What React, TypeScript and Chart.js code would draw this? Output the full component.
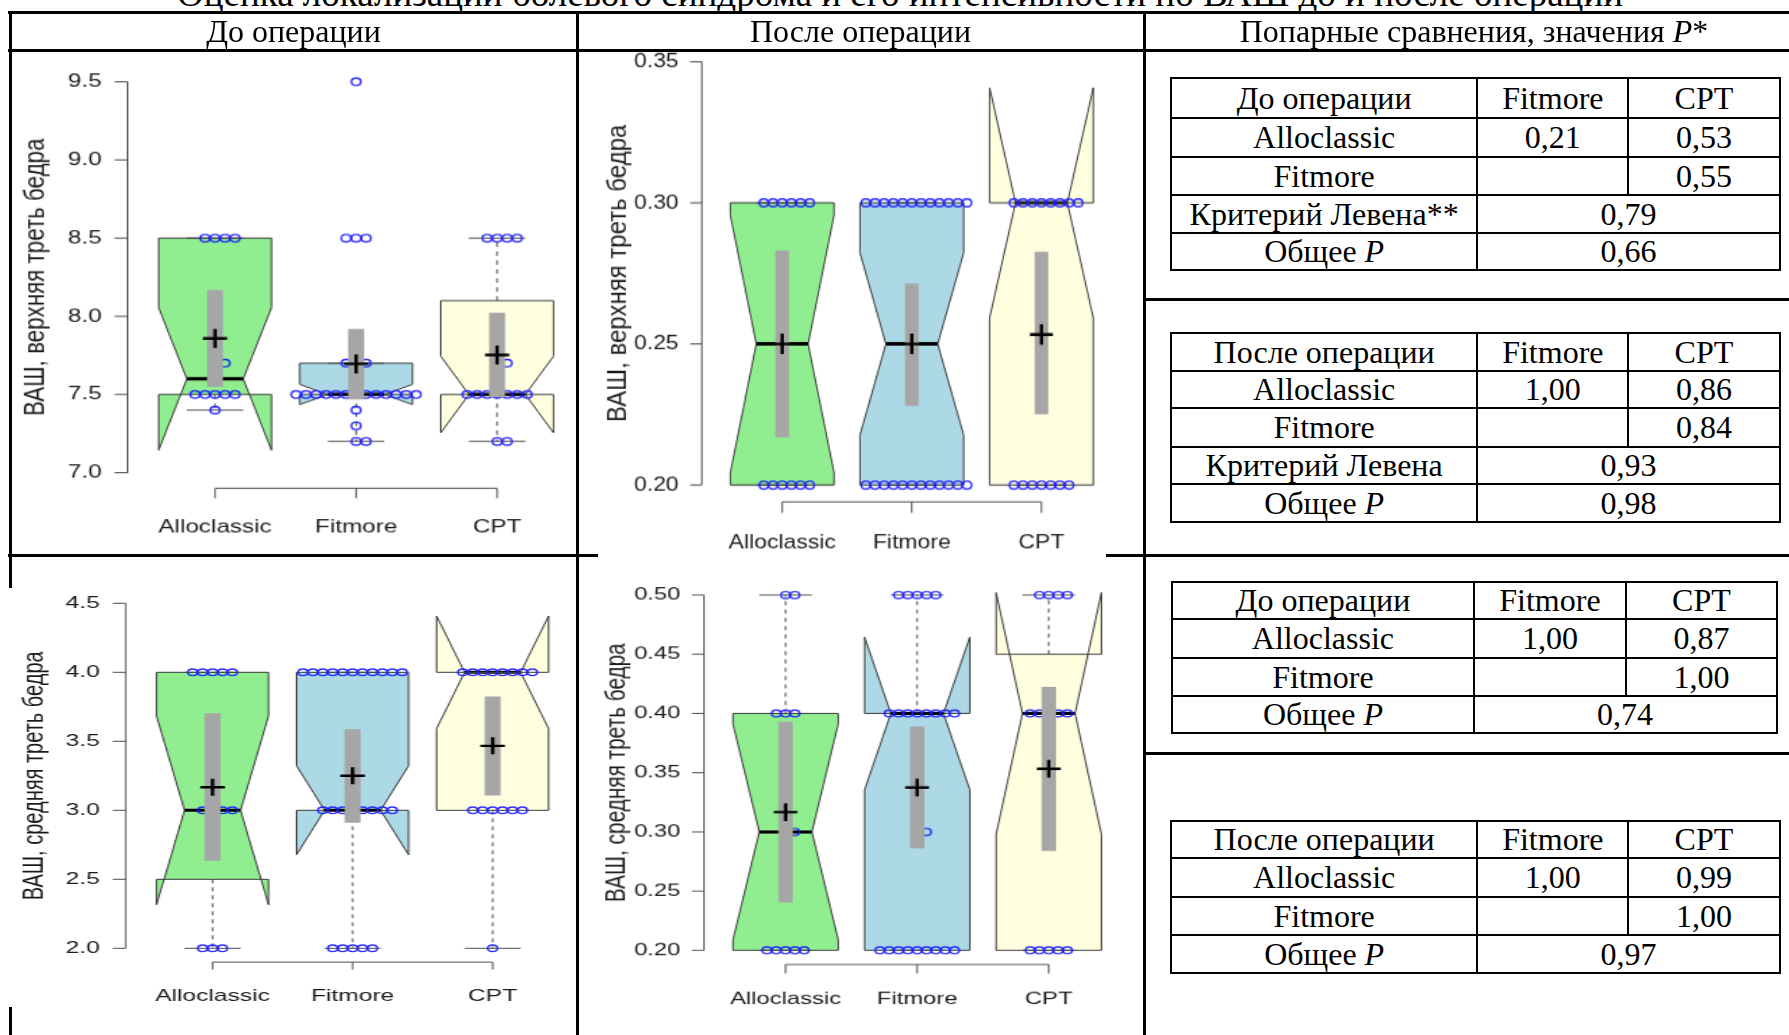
import React, { useEffect, useRef } from 'react';
import { Chart, registerables } from 'chart.js';

Chart.register(...registerables);

const SANS = '"Liberation Sans", Arial, Helvetica, sans-serif';
const SERIF = '"Liberation Serif", "Times New Roman", serif';

const figureTitle = 'Оценка локализации болевого синдрома и его интенсивности по ВАШ до и после операции';
const columnHeads = ['До операции', 'После операции', 'Попарные сравнения, значения P*'];

const categories = ['Alloclassic', 'Fitmore', 'CPT'];
const boxFills = ['#90ee90', '#add8e6', '#ffffe0'];

// ВАШ, верхняя треть бедра — до операции
const upperBeforeTicks = ['7.0', '7.5', '8.0', '8.5', '9.0', '9.5'];
const upperBeforeValues = [
  [8.5, 8.5, 8.5, 8.5, 7.7, 7.7, 7.5, 7.5, 7.5, 7.5, 7.5, 7.4],
  [9.5, 8.5, 8.5, 8.5, 7.7, 7.7, 7.7, 7.5, 7.5, 7.5, 7.5, 7.5, 7.5, 7.5, 7.5, 7.5, 7.5, 7.5, 7.5, 7.5, 7.4, 7.3, 7.2, 7.2],
  [8.5, 8.5, 8.5, 8.5, 7.7, 7.7, 7.5, 7.5, 7.5, 7.5, 7.5, 7.5, 7.5, 7.2, 7.2],
];
const upperBeforeQ1 = [7.5, 7.5, 7.5];
const upperBeforeMedian = [7.6, 7.5, 7.5];
const upperBeforeQ3 = [8.5, 7.7, 8.1];
const upperBeforeNotchLo = [7.144, 7.4355, 7.255];
const upperBeforeNotchHi = [8.056, 7.5645, 7.745];
const upperBeforeWhiskerLo = [7.4, 7.2, 7.2];
const upperBeforeWhiskerHi = [8.5, 7.7, 8.5];
const upperBeforeMean = [7.858, 7.696, 7.753];
const upperBeforeCiLo = [7.551, 7.47, 7.486];
const upperBeforeCiHi = [8.165, 7.917, 8.02];

// ВАШ, верхняя треть бедра — после операции
const upperAfterTicks = ['0.20', '0.25', '0.30', '0.35'];
const upperAfterValues = [
  [0.3, 0.3, 0.3, 0.3, 0.3, 0.3, 0.2, 0.2, 0.2, 0.2, 0.2, 0.2],
  [0.3, 0.3, 0.3, 0.3, 0.3, 0.3, 0.3, 0.3, 0.3, 0.3, 0.3, 0.3, 0.2, 0.2, 0.2, 0.2, 0.2, 0.2, 0.2, 0.2, 0.2, 0.2, 0.2, 0.2],
  [0.3, 0.3, 0.3, 0.3, 0.3, 0.3, 0.3, 0.3, 0.2, 0.2, 0.2, 0.2, 0.2, 0.2, 0.2],
];
const upperAfterQ1 = [0.2, 0.2, 0.2];
const upperAfterMedian = [0.25, 0.25, 0.3];
const upperAfterQ3 = [0.3, 0.3, 0.3];
const upperAfterNotchLo = [0.2044, 0.2177, 0.2592];
const upperAfterNotchHi = [0.2956, 0.2823, 0.3408];
const upperAfterWhiskerLo = [0.2, 0.2, 0.2];
const upperAfterWhiskerHi = [0.3, 0.3, 0.3];
const upperAfterMean = [0.25, 0.25, 0.2533];
const upperAfterCiLo = [0.217, 0.2282, 0.2252];
const upperAfterCiHi = [0.283, 0.2713, 0.2825];

// ВАШ, средняя треть бедра — до операции
const middleBeforeTicks = ['2.0', '2.5', '3.0', '3.5', '4.0', '4.5'];
const middleBeforeValues = [
  [4, 4, 4, 4, 4, 3, 3, 3, 3, 2, 2, 2],
  [4, 4, 4, 4, 4, 4, 4, 4, 4, 4, 4, 3, 3, 3, 3, 3, 3, 3, 3, 2, 2, 2, 2, 2],
  [4, 4, 4, 4, 4, 4, 4, 4, 3, 3, 3, 3, 3, 3, 2],
];
const middleBeforeQ1 = [2.5, 3, 3];
const middleBeforeMedian = [3, 3, 4];
const middleBeforeQ3 = [4, 4, 4];
const middleBeforeNotchLo = [2.316, 2.6775, 3.592];
const middleBeforeNotchHi = [3.684, 3.3225, 4.408];
const middleBeforeWhiskerLo = [2, 2, 2];
const middleBeforeWhiskerHi = [4, 4, 4];
const middleBeforeMean = [3.167, 3.25, 3.467];
const middleBeforeCiLo = [2.636, 2.913, 3.109];
const middleBeforeCiHi = [3.7, 3.585, 3.822];

// ВАШ, средняя треть бедра — после операции
const middleAfterTicks = ['0.20', '0.25', '0.30', '0.35', '0.40', '0.45', '0.50'];
const middleAfterValues = [
  [0.5, 0.5, 0.4, 0.4, 0.4, 0.3, 0.3, 0.2, 0.2, 0.2, 0.2, 0.2],
  [0.5, 0.5, 0.5, 0.5, 0.5, 0.4, 0.4, 0.4, 0.4, 0.4, 0.4, 0.4, 0.4, 0.3, 0.3, 0.2, 0.2, 0.2, 0.2, 0.2, 0.2, 0.2, 0.2, 0.2],
  [0.5, 0.5, 0.5, 0.5, 0.4, 0.4, 0.4, 0.4, 0.4, 0.3, 0.2, 0.2, 0.2, 0.2, 0.2],
];
const middleAfterQ1 = [0.2, 0.2, 0.2];
const middleAfterMedian = [0.3, 0.4, 0.4];
const middleAfterQ3 = [0.4, 0.4, 0.45];
const middleAfterNotchLo = [0.2088, 0.3355, 0.298];
const middleAfterNotchHi = [0.3912, 0.4645, 0.502];
const middleAfterWhiskerLo = [0.2, 0.2, 0.2];
const middleAfterWhiskerHi = [0.5, 0.5, 0.5];
const middleAfterMean = [0.3167, 0.3375, 0.3533];
const middleAfterCiLo = [0.2407, 0.2863, 0.2841];
const middleAfterCiHi = [0.3927, 0.3888, 0.4222];

// Попарные сравнения, значения P
const pairColumns = ['Fitmore', 'CPT'];
const upperBeforePairs = [['Alloclassic', '0,21', '0,53'], ['Fitmore', '', '0,55']];
const upperBeforeSummary = [['Критерий Левена**', '0,79'], ['Общее P', '0,66']];
const upperAfterPairs = [['Alloclassic', '1,00', '0,86'], ['Fitmore', '', '0,84']];
const upperAfterSummary = [['Критерий Левена', '0,93'], ['Общее P', '0,98']];
const middleBeforePairs = [['Alloclassic', '1,00', '0,87'], ['Fitmore', '', '1,00']];
const middleBeforeSummary = [['Общее P', '0,74']];
const middleAfterPairs = [['Alloclassic', '1,00', '0,99'], ['Fitmore', '', '1,00']];
const middleAfterSummary = [['Общее P', '0,97']];

type Stats = {
  q1: number[]; med: number[]; q3: number[]; notchLo: number[]; notchHi: number[];
  whiskerLo: number[]; whiskerHi: number[]; mean: number[]; ciLo: number[]; ciHi: number[];
};

type Panel = {
  yTitle: string;
  ticks: string[];
  yRange: [number, number];
  values: number[][];
  stats: Stats;
  frame: { left: number; top: number; width: number; height: number };
  sx: number;
  sy: number;
  area: { left: number; right: number; top: number; bottom: number };
  yLabelRight: number;
  xLabelCy: number;
  titleCx: number;
  yTickLen: number;
  xTickLen: number;
  barW: number;
};

const panels: Panel[] = [
  {
    yTitle: 'ВАШ, верхняя треть бедра',
    ticks: upperBeforeTicks,
    yRange: [6.9, 9.6],
    values: upperBeforeValues,
    stats: {
      q1: upperBeforeQ1, med: upperBeforeMedian, q3: upperBeforeQ3,
      notchLo: upperBeforeNotchLo, notchHi: upperBeforeNotchHi,
      whiskerLo: upperBeforeWhiskerLo, whiskerHi: upperBeforeWhiskerHi,
      mean: upperBeforeMean, ciLo: upperBeforeCiLo, ciHi: upperBeforeCiHi,
    },
    frame: { left: 11, top: 52, width: 565, height: 502 },
    sx: 1.43, sy: 1.12,
    area: { left: 127.6, right: 590.8, top: 66.1, bottom: 488.3 },
    yLabelRight: 101.7, xLabelCy: 527, titleCx: 36, yTickLen: 13, xTickLen: 10, barW: 15,
  },
  {
    yTitle: 'ВАШ, верхняя треть бедра',
    ticks: upperAfterTicks,
    yRange: [0.194, 0.356],
    values: upperAfterValues,
    stats: {
      q1: upperAfterQ1, med: upperAfterMedian, q3: upperAfterQ3,
      notchLo: upperAfterNotchLo, notchHi: upperAfterNotchHi,
      whiskerLo: upperAfterWhiskerLo, whiskerHi: upperAfterWhiskerHi,
      mean: upperAfterMean, ciLo: upperAfterCiLo, ciHi: upperAfterCiHi,
    },
    frame: { left: 580, top: 30, width: 562, height: 526 },
    sx: 1.35, sy: 1.2,
    area: { left: 701.8, right: 1121.8, top: 44.8, bottom: 501.9 },
    yLabelRight: 678.6, xLabelCy: 543, titleCx: 618.6, yTickLen: 11.6, xTickLen: 11, barW: 12.7,
  },
  {
    yTitle: 'ВАШ, средняя треть бедра',
    ticks: middleBeforeTicks,
    yRange: [1.9, 4.6],
    values: middleBeforeValues,
    stats: {
      q1: middleBeforeQ1, med: middleBeforeMedian, q3: middleBeforeQ3,
      notchLo: middleBeforeNotchLo, notchHi: middleBeforeNotchHi,
      whiskerLo: middleBeforeWhiskerLo, whiskerHi: middleBeforeWhiskerHi,
      mean: middleBeforeMean, ciLo: middleBeforeCiLo, ciHi: middleBeforeCiHi,
    },
    frame: { left: 11, top: 560, width: 565, height: 475 },
    sx: 1.446, sy: 1.0,
    area: { left: 125.7, right: 584.6, top: 589.5, bottom: 962.1 },
    yLabelRight: 99.9, xLabelCy: 996, titleCx: 35, yTickLen: 13, xTickLen: 7.5, barW: 15,
  },
  {
    yTitle: 'ВАШ, средняя треть бедра',
    ticks: middleAfterTicks,
    yRange: [0.188, 0.512],
    values: middleAfterValues,
    stats: {
      q1: middleAfterQ1, med: middleAfterMedian, q3: middleAfterQ3,
      notchLo: middleAfterNotchLo, notchHi: middleAfterNotchHi,
      whiskerLo: middleAfterWhiskerLo, whiskerHi: middleAfterWhiskerHi,
      mean: middleAfterMean, ciLo: middleAfterCiLo, ciHi: middleAfterCiHi,
    },
    frame: { left: 580, top: 560, width: 562, height: 475 },
    sx: 1.4, sy: 1.04,
    area: { left: 704, right: 1135.6, top: 580.8, bottom: 964.5 },
    yLabelRight: 680.4, xLabelCy: 999.3, titleCx: 617.7, yTickLen: 12, xTickLen: 9, barW: 13.5,
  },
];

const TICK_FONT = 17;
const TITLE_FONT = 20;
const SWARM_STEP = 0.071;

// beeswarm-style slots: centre, right, left, further right, ...
function swarmSlots(vals: number[]): number[] {
  const seen = new Map<number, number>();
  return vals.map((v) => {
    const k = seen.get(v) ?? 0;
    seen.set(v, k + 1);
    if (k === 0) return 0;
    return k % 2 === 1 ? (k + 1) / 2 : -k / 2;
  });
}

// R-style notched boxes plus R-style axes (axis line spans only the tick range)
function rBoxPlugin(p: Panel, yTick: number, xTick: number) {
  return {
    id: 'rBox',
    beforeDatasetsDraw(chart: any) {
      const { ctx, chartArea: a } = chart;
      const xs = chart.scales.x;
      const ys = chart.scales.y;
      const X = (v: number) => xs.getPixelForValue(v);
      const Y = (v: number) => ys.getPixelForValue(v);
      const tv = p.ticks.map(Number);
      ctx.save();
      ctx.setLineDash([]);
      ctx.strokeStyle = '#4d4d4d';
      ctx.lineWidth = 1;
      ctx.beginPath();
      ctx.moveTo(a.left, Y(tv[0]));
      ctx.lineTo(a.left, Y(tv[tv.length - 1]));
      tv.forEach((v) => {
        ctx.moveTo(a.left - yTick, Y(v));
        ctx.lineTo(a.left, Y(v));
      });
      ctx.moveTo(X(1), a.bottom);
      ctx.lineTo(X(categories.length), a.bottom);
      categories.forEach((_, i) => {
        ctx.moveTo(X(i + 1), a.bottom);
        ctx.lineTo(X(i + 1), a.bottom + xTick);
      });
      ctx.stroke();

      const s = p.stats;
      const hw = 0.4;
      const nf = 0.5;
      const sw = 0.2;
      categories.forEach((_, i) => {
        const c = i + 1;
        const poly: [number, number][] = [
          [c - hw, s.q1[i]], [c + hw, s.q1[i]], [c + hw, s.notchLo[i]], [c + hw * nf, s.med[i]],
          [c + hw, s.notchHi[i]], [c + hw, s.q3[i]], [c - hw, s.q3[i]], [c - hw, s.notchHi[i]],
          [c - hw * nf, s.med[i]], [c - hw, s.notchLo[i]],
        ];
        ctx.beginPath();
        poly.forEach(([u, v], k) => (k ? ctx.lineTo(X(u), Y(v)) : ctx.moveTo(X(u), Y(v))));
        ctx.closePath();
        ctx.fillStyle = boxFills[i];
        ctx.fill();
        ctx.strokeStyle = '#3a3a3a';
        ctx.lineWidth = 1;
        ctx.stroke();

        ctx.beginPath();
        ctx.moveTo(X(c - hw * nf), Y(s.med[i]));
        ctx.lineTo(X(c + hw * nf), Y(s.med[i]));
        ctx.strokeStyle = '#000';
        ctx.lineWidth = 3;
        ctx.stroke();

        ctx.strokeStyle = '#4d4d4d';
        ctx.lineWidth = 1;
        ctx.setLineDash([4, 4]);
        ctx.beginPath();
        ctx.moveTo(X(c), Y(s.q1[i]));
        ctx.lineTo(X(c), Y(s.whiskerLo[i]));
        ctx.moveTo(X(c), Y(s.q3[i]));
        ctx.lineTo(X(c), Y(s.whiskerHi[i]));
        ctx.stroke();
        ctx.setLineDash([]);
        ctx.beginPath();
        [s.whiskerLo[i], s.whiskerHi[i]].forEach((v) => {
          ctx.moveTo(X(c - sw), Y(v));
          ctx.lineTo(X(c + sw), Y(v));
        });
        ctx.stroke();
      });
      ctx.restore();
    },
  };
}

function BoxPanel({ p }: { p: Panel }) {
  const ref = useRef<HTMLCanvasElement>(null);
  const Wb = Math.round(Math.max(p.frame.width, p.area.right - p.frame.left + 10) / p.sx);
  const Hb = Math.round(p.frame.height / p.sy);

  useEffect(() => {
    const left = (p.area.left - p.frame.left) / p.sx;
    const right = (p.area.right - p.frame.left) / p.sx;
    const top = (p.area.top - p.frame.top) / p.sy;
    const bottom = (p.area.bottom - p.frame.top) / p.sy;
    const yPad = (p.area.left - p.yLabelRight) / p.sx;
    const xPad = (p.xLabelCy - p.area.bottom) / p.sy - (TICK_FONT * 1.2) / 2;
    const titlePad = (p.titleCx - p.frame.left) / p.sx - (TITLE_FONT * 1.2) / 2;
    const yTick = p.yTickLen / p.sx;
    const xTick = p.xTickLen / p.sy;

    const points = p.values.flatMap((vals, i) => {
      const slots = swarmSlots(vals);
      return vals.map((v, k) => ({ x: i + 1 + slots[k] * SWARM_STEP, y: v }));
    });
    const tickFont = { family: SANS, size: TICK_FONT };

    const chart = new Chart(ref.current as HTMLCanvasElement, {
      type: 'scatter',
      data: {
        datasets: [
          {
            type: 'scatter',
            data: p.stats.mean.map((m, i) => ({ x: i + 1, y: m })),
            pointStyle: 'cross',
            pointRadius: 8.5,
            pointBorderWidth: 2.4,
            pointBorderColor: '#000',
            pointBackgroundColor: '#000',
          } as any,
          {
            type: 'bar',
            data: p.stats.ciLo.map((lo, i) => ({ x: i + 1, y: [lo, p.stats.ciHi[i]] })),
            backgroundColor: '#a6a6a6',
            borderWidth: 0,
            barThickness: p.barW / p.sx,
          } as any,
          {
            type: 'scatter',
            data: points,
            pointStyle: 'circle',
            pointRadius: 3.3,
            pointBorderWidth: 1.4,
            pointBorderColor: 'rgba(25,25,255,0.9)',
            pointBackgroundColor: 'rgba(0,0,0,0)',
          } as any,
        ],
      },
      options: {
        responsive: false,
        animation: false,
        events: [],
        layout: { padding: { left: 0, top, right: Wb - right, bottom: 0 } },
        plugins: { legend: { display: false }, tooltip: { enabled: false } },
        scales: {
          x: {
            type: 'linear',
            offset: false,
            min: 0.38,
            max: 3.62,
            grid: { display: false, drawTicks: false, offset: false },
            border: { display: false },
            afterBuildTicks: (s: any) => {
              s.ticks = categories.map((_, i) => ({ value: i + 1 }));
            },
            afterFit: (s: any) => {
              s.height = Hb - bottom;
              s.paddingLeft = 0;
              s.paddingRight = 0;
            },
            ticks: {
              callback: (_v: any, i: number) => categories[i],
              padding: xPad,
              font: tickFont,
              color: '#1a1a1a',
              maxRotation: 0,
              minRotation: 0,
              autoSkip: false,
            },
          },
          y: {
            type: 'linear',
            min: p.yRange[0],
            max: p.yRange[1],
            beginAtZero: false,
            grid: { display: false, drawTicks: false },
            border: { display: false },
            afterBuildTicks: (s: any) => {
              s.ticks = p.ticks.map((t) => ({ value: Number(t) }));
            },
            afterFit: (s: any) => {
              s.width = left;
              s.paddingTop = 0;
              s.paddingBottom = 0;
            },
            ticks: {
              callback: (_v: any, i: number) => p.ticks[i],
              padding: yPad,
              font: tickFont,
              color: '#1a1a1a',
              autoSkip: false,
            },
            title: {
              display: true,
              text: p.yTitle,
              font: { family: SANS, size: TITLE_FONT },
              color: '#1a1a1a',
              padding: { top: titlePad, bottom: 0 },
            },
          },
        },
      } as any,
      plugins: [rBoxPlugin(p, yTick, xTick)],
    });
    return () => chart.destroy();
  }, []);

  return (
    <div
      style={{
        position: 'absolute',
        left: p.frame.left,
        top: p.frame.top,
        width: p.frame.width,
        height: p.frame.height,
        overflow: 'hidden',
      }}
    >
      <div style={{ width: Wb, height: Hb, transform: `scale(${p.sx}, ${p.sy})`, transformOrigin: '0 0' }}>
        <canvas ref={ref} width={Wb} height={Hb} style={{ display: 'block' }} />
      </div>
    </div>
  );
}

function italicP(s: string) {
  return s.split(/(P(?=\*|$))/).map((part, i) => (part === 'P' ? <i key={i}>P</i> : <span key={i}>{part}</span>));
}

function Txt({ cx, cy, size, text, width = 700 }: { cx: number; cy: number; size: number; text: string; width?: number }) {
  return (
    <div
      style={{
        position: 'absolute',
        left: cx - width / 2,
        top: cy - size * 0.6,
        width,
        height: size * 1.2,
        lineHeight: `${size * 1.2}px`,
        fontSize: size,
        fontFamily: SERIF,
        textAlign: 'center',
        whiteSpace: 'nowrap',
        color: '#000',
      }}
    >
      {italicP(text)}
    </div>
  );
}

function HLine({ x1, x2, y, t }: { x1: number; x2: number; y: number; t: number }) {
  return <div style={{ position: 'absolute', left: x1, top: y - t / 2, width: x2 - x1, height: t, background: '#000' }} />;
}
function VLine({ x, y1, y2, t }: { x: number; y1: number; y2: number; t: number }) {
  return <div style={{ position: 'absolute', left: x - t / 2, top: y1, width: t, height: y2 - y1, background: '#000' }} />;
}

type SubTable = { head: string; pairs: string[][]; summary: string[][]; rowsY: number[]; colsX: number[] };

const subTables: SubTable[] = [
  { head: 'До операции', pairs: upperBeforePairs, summary: upperBeforeSummary,
    rowsY: [78.3, 117.7, 156.7, 195, 232.7, 270], colsX: [1171, 1477.3, 1628.4, 1779.5] },
  { head: 'После операции', pairs: upperAfterPairs, summary: upperAfterSummary,
    rowsY: [332.7, 370.7, 408.3, 446.7, 484.3, 522.3], colsX: [1171, 1477.3, 1628.4, 1779.5] },
  { head: 'До операции', pairs: middleBeforePairs, summary: middleBeforeSummary,
    rowsY: [581.7, 619.3, 657.7, 695.7, 733.3], colsX: [1172.3, 1473.6, 1626.3, 1776.6] },
  { head: 'После операции', pairs: middleAfterPairs, summary: middleAfterSummary,
    rowsY: [821, 858.3, 896.7, 935, 972.7], colsX: [1171, 1477.3, 1628.4, 1779.5] },
];

const TABLE_FONT = 32;
const HEAD_FONT = 32;

function PTable({ t }: { t: SubTable }) {
  const [x0, x1, x2, x3] = t.colsX;
  const ys = t.rowsY;
  const split = 1 + t.pairs.length;
  const rows = [[t.head, ...pairColumns], ...t.pairs];
  const mid = (r: number) => (ys[r] + ys[r + 1]) / 2;
  return (
    <>
      {ys.map((y, i) => <HLine key={'h' + i} x1={x0 - 1} x2={x3 + 1} y={y} t={2} />)}
      <VLine x={x0} y1={ys[0]} y2={ys[ys.length - 1]} t={2} />
      <VLine x={x1} y1={ys[0]} y2={ys[ys.length - 1]} t={2} />
      <VLine x={x3} y1={ys[0]} y2={ys[ys.length - 1]} t={2} />
      <VLine x={x2} y1={ys[0]} y2={ys[split]} t={2} />
      {rows.map((r, ri) => (
        <React.Fragment key={'r' + ri}>
          <Txt cx={(x0 + x1) / 2} cy={mid(ri)} size={TABLE_FONT} text={r[0]} width={300} />
          <Txt cx={(x1 + x2) / 2} cy={mid(ri)} size={TABLE_FONT} text={r[1]} width={150} />
          <Txt cx={(x2 + x3) / 2} cy={mid(ri)} size={TABLE_FONT} text={r[2]} width={150} />
        </React.Fragment>
      ))}
      {t.summary.map((r, si) => (
        <React.Fragment key={'s' + si}>
          <Txt cx={(x0 + x1) / 2} cy={mid(split + si)} size={TABLE_FONT} text={r[0]} width={300} />
          <Txt cx={(x1 + x3) / 2} cy={mid(split + si)} size={TABLE_FONT} text={r[1]} width={300} />
        </React.Fragment>
      ))}
    </>
  );
}

export default function App() {
  return (
    <div
      style={{
        position: 'absolute',
        left: 0,
        top: 0,
        width: 1789,
        height: 1035,
        overflow: 'hidden',
        background: '#fff',
      }}
    >
      {panels.map((p, i) => (
        <BoxPanel key={i} p={p} />
      ))}

      <Txt cx={900} cy={-5.7} size={37} text={figureTitle} width={1750} />

      {/* outer table frame */}
      <HLine x1={8} x2={1789} y={12.5} t={3} />
      <HLine x1={8} x2={1789} y={50} t={3} />
      <HLine x1={8} x2={598} y={555} t={3} />
      <HLine x1={1106} x2={1789} y={555} t={3} />
      <HLine x1={1144} x2={1789} y={299} t={3} />
      <HLine x1={1144} x2={1789} y={753} t={3} />
      <VLine x={10} y1={11} y2={588} t={3} />
      <VLine x={10} y1={1007} y2={1035} t={3} />
      <VLine x={577} y1={11} y2={1035} t={3} />
      <VLine x={1144} y1={11} y2={1035} t={3} />

      <Txt cx={293.5} cy={31} size={HEAD_FONT} text={columnHeads[0]} />
      <Txt cx={860.5} cy={31} size={HEAD_FONT} text={columnHeads[1]} />
      <Txt cx={1474} cy={31} size={HEAD_FONT} text={columnHeads[2]} />

      {subTables.map((t, i) => (
        <PTable key={i} t={t} />
      ))}
    </div>
  );
}
